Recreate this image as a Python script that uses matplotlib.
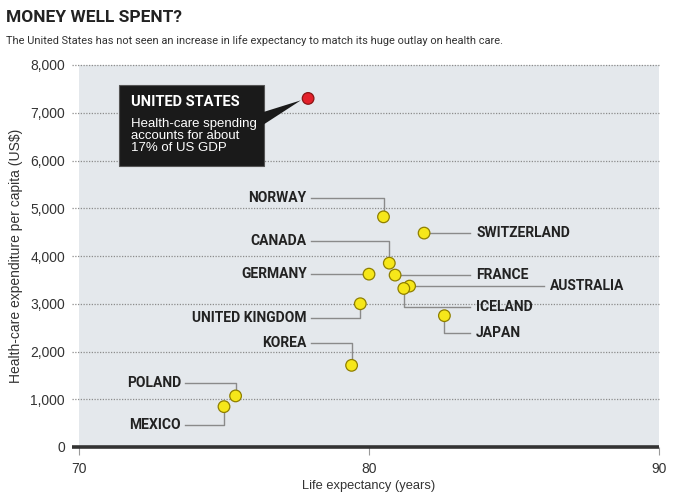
import numpy as np
import matplotlib
matplotlib.use("Agg")
import matplotlib.pyplot as plt

# data
countries = ["UNITED STATES", "NORWAY", "SWITZERLAND", "CANADA", "GERMANY", "FRANCE",
             "AUSTRALIA", "ICELAND", "UNITED KINGDOM", "JAPAN", "KOREA", "POLAND", "MEXICO"]
life_exp = [77.9, 80.5, 81.9, 80.7, 80.0, 80.9, 81.4, 81.2, 79.7, 82.6, 79.4, 75.4, 75.0]
spending = [7300, 4820, 4480, 3850, 3620, 3600, 3370, 3320, 3000, 2750, 1710, 1070, 845]

x_ticks = [70, 80, 90]
y_ticks = [0, 1000, 2000, 3000, 4000, 5000, 6000, 7000, 8000]

# label layout: (label x, label y, side, leader elbow) in data units
layout = {
    "NORWAY":         (77.85, 5215, "left", "h-v"),
    "CANADA":         (77.85, 4314, "left", "h-v"),
    "GERMANY":        (77.85, None, "left", "h"),
    "UNITED KINGDOM": (77.85, 2702, "left", "h-v"),
    "KOREA":          (77.85, 2178, "left", "h-v"),
    "POLAND":         (73.52, 1340, "left", "h-v"),
    "MEXICO":         (73.52, 471, "left", "h-v"),
    "SWITZERLAND":    (83.69, None, "right", "h"),
    "FRANCE":         (83.69, None, "right", "h"),
    "AUSTRALIA":      (86.24, None, "right", "h"),
    "ICELAND":        (83.69, 2932, "right", "v-h"),
    "JAPAN":          (83.69, 2387, "right", "v-h"),
}

BG = "#e4e8ec"
GRID = "#8c8c8c"
LEAD = "#8a8a8a"
COND = ["Roboto", "DejaVu Sans"]
SANS = ["Liberation Sans", "DejaVu Sans"]

W, H = 685, 497
fig = plt.figure(figsize=(W / 100, H / 100), dpi=100)
fig.patch.set_facecolor("white")
L, R, T, B = 79, 659, 65, 447
ax = fig.add_axes([L / W, 1 - B / H, (R - L) / W, (B - T) / H])
ax.set_facecolor(BG)
ax.set_xlim(70, 90)
ax.set_ylim(0, 8000)
for s in ax.spines.values():
    s.set_visible(False)

# dotted gridlines running a little into the left margin
ytr = ax.get_yaxis_transform()
for v in y_ticks[1:]:
    ax.plot([-0.012, 1], [v, v], transform=ytr, ls=(0, (1, 1.2)), lw=0.9,
            color=GRID, clip_on=False, zorder=1)
ax.plot([-0.012, 1], [0, 0], transform=ytr, lw=2.6, color="#333333",
        clip_on=False, zorder=3, solid_capstyle="butt")

ax.set_yticks(y_ticks)
ax.set_yticklabels([f"{v:,}" for v in y_ticks], family=SANS, fontsize=10, color="#333333")
ax.tick_params(axis="y", length=0, pad=10)
ax.set_xticks(x_ticks)
ax.set_xticklabels([str(v) for v in x_ticks], family=SANS, fontsize=10, color="#333333")
ax.tick_params(axis="x", length=6, width=0.8, color="#999999", pad=5)
ax.set_xlabel("Life expectancy (years)", family=SANS, fontsize=9.3, color="#333333", labelpad=3)
ax.set_ylabel("Health-care expenditure per capita (US$)", family=SANS, fontsize=10,
              color="#333333", labelpad=5)

# points
colors = ["#e3202a" if c == "UNITED STATES" else "#f6e71a" for c in countries]
edges = ["#8a1515" if c == "UNITED STATES" else "#8f7f00" for c in countries]
ax.scatter(life_exp, spending, s=70, c=colors, edgecolors=edges, linewidths=0.9, zorder=5)

# leaders and labels
gap = 0.15
for name, x, y in zip(countries, life_exp, spending):
    if name not in layout:
        continue
    lx, ly, side, kind = layout[name]
    ty = y if ly is None else ly
    if side == "left":
        end = lx + gap
        if kind == "h":
            ax.plot([end, x], [y, y], color=LEAD, lw=1, zorder=4)
        else:
            ax.plot([end, x, x], [ly, ly, y], color=LEAD, lw=1, zorder=4)
        ax.text(lx, ty, name, ha="right", va="center", family=COND, fontweight="bold",
                fontsize=10, color="#222222")
    else:
        end = lx - 0.2
        if kind == "h":
            ax.plot([x, end], [y, y], color=LEAD, lw=1, zorder=4)
        else:
            ax.plot([x, x, end], [y, ly, ly], color=LEAD, lw=1, zorder=4)
        ax.text(lx, ty, name, ha="left", va="center", family=COND, fontweight="bold",
                fontsize=10, color="#222222")

# US callout box
us_x, us_y = life_exp[0], spending[0]
box_x0, box_x1, box_y0, box_y1 = 71.38, 76.38, 5885, 7581
ax.add_patch(plt.Rectangle((box_x0, box_y0), box_x1 - box_x0, box_y1 - box_y0,
                           facecolor="#1a1a1a", edgecolor="#555555", lw=0.8, zorder=6))
ax.add_patch(plt.Polygon([(box_x1 - 0.1, 7000), (us_x - 0.25, us_y - 40), (box_x1 - 0.1, 6720)],
                         closed=True, facecolor="#1a1a1a", edgecolor="none", zorder=6))
ax.text(box_x0 + 0.4, 7230, "UNITED STATES", family=COND, fontweight="bold", fontsize=10.5,
        color="white", va="center", zorder=7)
ax.text(box_x0 + 0.4, 6900, "Health-care spending\naccounts for about\n17% of US GDP",
        family=SANS, fontsize=9.5, color="white", va="top", linespacing=1.05, zorder=7)

# titles
fig.text(6 / W, 1 - 18 / H, "MONEY WELL SPENT?", family=COND, fontweight="bold",
         fontsize=12.5, color="#222222", va="center")
fig.text(6 / W, 1 - 41 / H,
         "The United States has not seen an increase in life expectancy to match its huge outlay on health care.",
         family=COND, fontsize=7.9, color="#333333", va="center")

fig.savefig("out.png", dpi=100, facecolor="white")
